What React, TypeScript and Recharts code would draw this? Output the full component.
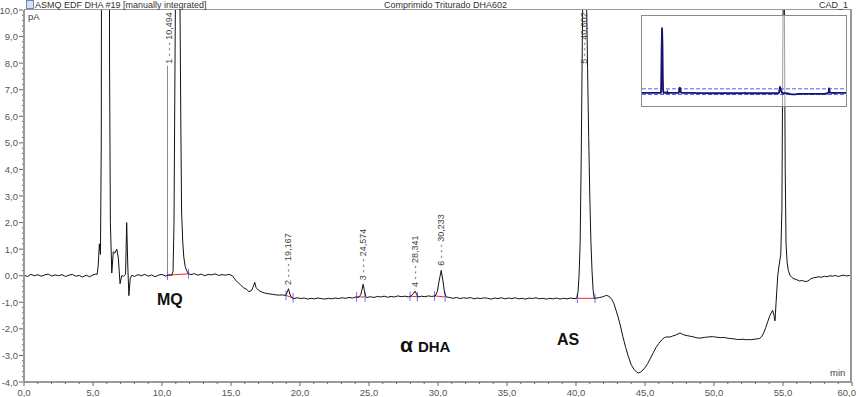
import React from 'react';
import { LineChart, Line, XAxis, YAxis, ReferenceLine, ReferenceDot } from 'recharts';

type Pt = [number, number];

// chromatogram trace, [min, pA]
const baselineStart: Pt[] = [
  [0, 0.02], [0.25, -0.03], [0.5, 0.05], [0.75, 0.0], [1.0, 0.04], [1.25, -0.02], [1.5, 0.03],
  [1.75, 0.06], [2.0, -0.01], [2.25, 0.03], [2.5, 0.0], [2.75, 0.04], [3.0, -0.03], [3.25, 0.02],
  [3.5, 0.05], [3.75, -0.02], [4.0, 0.01], [4.25, -0.05], [4.5, 0.02], [4.75, -0.04], [5.0, 0.03],
  [5.2, 0.06],
];

const solventFront: Pt[] = [
  [5.3, 0.05], [5.38, 0.4], [5.46, 1.2], [5.54, 0.8], [5.6, 5], [5.66, 30], [5.78, 110], [5.9, 160],
  [6.02, 120], [6.12, 40], [6.2, 8], [6.26, 2], [6.36, 0.1], [6.47, 0.9], [6.58, 0.85], [6.72, 1.0],
  [6.83, 0.7], [6.96, -0.3], [7.08, 0.0], [7.22, -0.02], [7.36, 0.05], [7.44, 2.0], [7.52, 0.4],
  [7.6, -0.75], [7.7, -0.1], [7.82, 0.02],
];

const mqRegion: Pt[] = [
  [8.0, -0.03], [8.25, 0.04], [8.5, 0.0], [8.75, 0.05], [9.0, -0.02], [9.25, 0.03], [9.5, -0.04],
  [9.75, 0.02], [10.0, 0.05], [10.25, -0.01], [10.5, 0.03], [10.7, 0.02],
  [10.8, 0.15], [10.87, 2], [10.93, 7], [10.98, 11], [11.1, 12.5], [11.22, 12], [11.3, 10.5],
  [11.36, 6], [11.42, 2.4], [11.5, 1.3], [11.58, 0.7], [11.68, 0.35], [11.78, 0.2], [11.9, 0.08],
  [12.1, 0.04], [12.35, 0.08], [12.6, 0.02], [12.85, 0.06], [13.1, 0.0], [13.35, 0.05], [13.6, 0.03],
  [13.85, 0.07], [14.1, 0.01], [14.35, 0.04], [14.6, 0.02], [14.85, 0.05], [15.1, 0.0],
];

const dhaRegion: Pt[] = [
  [15.3, -0.15], [15.5, -0.25], [15.7, -0.35], [15.9, -0.45], [16.1, -0.5], [16.3, -0.6], [16.5, -0.55],
  [16.62, -0.4], [16.72, -0.25], [16.82, -0.45], [17.0, -0.55], [17.25, -0.62], [17.5, -0.66],
  [17.75, -0.68], [18.0, -0.7], [18.25, -0.72], [18.5, -0.73], [18.75, -0.72], [18.95, -0.75],
  [19.05, -0.65], [19.167, -0.49], [19.28, -0.72], [19.4, -0.82], [19.55, -0.86],
  [19.8, -0.83], [20.05, -0.86], [20.3, -0.84], [20.55, -0.88], [20.8, -0.85], [21.05, -0.87],
  [21.3, -0.84], [21.55, -0.86], [21.8, -0.88], [22.05, -0.85], [22.3, -0.87], [22.55, -0.84],
  [22.8, -0.86], [23.05, -0.83], [23.3, -0.85], [23.55, -0.82], [23.8, -0.84], [24.05, -0.8],
  [24.25, -0.81], [24.4, -0.72], [24.5, -0.5], [24.574, -0.32], [24.65, -0.52], [24.75, -0.78],
  [24.85, -0.82], [25.1, -0.79], [25.35, -0.82], [25.6, -0.78], [25.85, -0.8], [26.1, -0.77],
  [26.35, -0.81], [26.6, -0.78], [26.85, -0.8], [27.1, -0.76], [27.35, -0.79], [27.6, -0.77],
  [27.85, -0.8], [28.05, -0.76], [28.2, -0.68], [28.341, -0.58], [28.45, -0.7], [28.55, -0.8],
  [28.8, -0.77], [29.05, -0.79], [29.3, -0.76], [29.55, -0.78], [29.8, -0.76],
  [29.95, -0.6], [30.08, -0.2], [30.233, 0.2], [30.36, -0.2], [30.48, -0.65], [30.6, -0.8],
  [30.85, -0.82], [31.1, -0.85], [31.35, -0.82], [31.6, -0.86], [31.85, -0.83], [32.1, -0.85],
  [32.35, -0.82], [32.6, -0.87], [32.85, -0.84], [33.1, -0.86], [33.35, -0.83], [33.6, -0.85],
  [33.85, -0.88], [34.1, -0.84], [34.35, -0.86], [34.6, -0.83], [34.85, -0.87], [35.1, -0.84],
  [35.35, -0.86], [35.6, -0.83], [35.85, -0.87], [36.1, -0.85], [36.35, -0.88], [36.6, -0.84],
  [36.85, -0.86], [37.1, -0.83], [37.35, -0.87], [37.6, -0.85], [37.85, -0.88], [38.1, -0.85],
  [38.35, -0.87], [38.6, -0.84], [38.85, -0.88], [39.1, -0.85], [39.35, -0.87], [39.6, -0.84],
  [39.85, -0.86], [40.05, -0.85],
];

const asRegion: Pt[] = [
  [40.15, -0.6], [40.22, 0.0], [40.3, 1.2], [40.38, 4.5], [40.46, 9], [40.54, 13], [40.602, 14],
  [40.68, 13], [40.76, 10.5], [40.84, 7.8], [40.92, 5.2], [41.0, 3.0], [41.08, 1.3], [41.16, 0.2],
  [41.24, -0.55], [41.32, -0.85], [41.5, -0.84], [41.7, -0.82], [41.9, -0.8], [42.05, -0.77],
  [42.2, -0.74], [42.32, -0.76], [42.45, -0.8],
];

const gradientDip: Pt[] = [
  [42.6, -0.9], [42.75, -1.05], [42.9, -1.3], [43.05, -1.55], [43.2, -1.85], [43.4, -2.3],
  [43.6, -2.7], [43.8, -3.05], [44.0, -3.35], [44.2, -3.52], [44.4, -3.63], [44.55, -3.66],
  [44.7, -3.62], [44.85, -3.55], [45.0, -3.46], [45.2, -3.3], [45.4, -3.1], [45.6, -2.9],
  [45.8, -2.7], [46.0, -2.55], [46.2, -2.42], [46.4, -2.33], [46.6, -2.3], [46.8, -2.31],
  [47.0, -2.27], [47.2, -2.24], [47.4, -2.19], [47.54, -2.15], [47.7, -2.2], [47.9, -2.24],
  [48.1, -2.26], [48.3, -2.28], [48.5, -2.3], [48.7, -2.33], [48.9, -2.35], [49.1, -2.34],
  [49.3, -2.32], [49.5, -2.31], [49.7, -2.3], [49.9, -2.29], [50.1, -2.31], [50.3, -2.32],
  [50.5, -2.33], [50.7, -2.32], [50.9, -2.34], [51.1, -2.36], [51.3, -2.37], [51.5, -2.38],
  [51.7, -2.4], [51.9, -2.4], [52.1, -2.39], [52.3, -2.41], [52.5, -2.4], [52.7, -2.41],
  [52.9, -2.39], [53.1, -2.38], [53.3, -2.36], [53.45, -2.3], [53.6, -2.15], [53.75, -1.95],
  [53.9, -1.72], [54.05, -1.5], [54.15, -1.4], [54.25, -1.3], [54.35, -1.5], [54.42, -1.7],
];

const lateRegion: Pt[] = [
  [54.5, -1.0], [54.56, -0.5], [54.62, 0.0], [54.72, 0.4], [54.84, 0.8], [54.92, 2.5], [54.98, 8],
  [55.04, 12.5], [55.1, 10], [55.16, 4], [55.22, 1.2], [55.3, 0.5], [55.39, 0.19], [55.5, 0.02],
  [55.63, -0.06], [55.8, -0.12], [56.0, -0.15], [56.2, -0.2], [56.4, -0.18], [56.6, -0.22],
  [56.8, -0.2], [57.0, -0.12], [57.2, -0.08], [57.4, -0.06], [57.6, -0.04], [57.8, -0.06],
  [58.0, -0.02], [58.2, -0.04], [58.4, 0.0], [58.6, -0.02], [58.8, 0.01], [59.0, -0.03],
  [59.2, 0.0], [59.4, 0.02], [59.6, -0.01], [59.8, 0.01], [60.0, 0.0],
];

// integrated peaks: number, retention time, where the label sits
const peakNums = ['1', '2', '3', '4', '6', '5'];
const peakTimes = [10.494, 19.167, 24.574, 28.341, 30.233, 40.602];
const peakLabelY = [7.9, -0.42, -0.25, -0.5, 0.3, 7.9];

// integration baselines (start / end of each peak)
const intStart: Pt[] = [[10.4, 0.02], [18.98, -0.74], [24.1, -0.8], [27.98, -0.77], [29.75, -0.76], [40.1, -0.85]];
const intEnd: Pt[] = [[11.92, 0.07], [19.5, -0.84], [24.72, -0.8], [28.5, -0.79], [30.52, -0.8], [41.38, -0.85]];

const xMajor = [0, 5, 10, 15, 20, 25, 30, 35, 40, 45, 50, 55, 60];
const yMajor = [-4, -3, -2, -1, 0, 1, 2, 3, 4, 5, 6, 7, 8, 9, 10];

const trace = [...baselineStart, ...solventFront, ...mqRegion, ...dhaRegion, ...asRegion, ...gradientDip, ...lateRegion]
  .map(([t, v]) => ({ t, v }));

const xTicks: number[] = [];
for (let i = 0; i < xMajor.length - 1; i++) for (let k = 0; k < 5; k++) xTicks.push(xMajor[i] + k);
xTicks.push(60);
const yTicks: number[] = [];
for (let i = 0; i < yMajor.length - 1; i++) for (let k = 0; k < 5; k++) yTicks.push(Math.round((yMajor[i] + k * 0.2) * 10) / 10);
yTicks.push(10);

const FONT = '"Liberation Sans", Arial, sans-serif';
const fmt = (v: number) => v.toFixed(1).replace('.', ',');

function YTick({ x, y, payload }: any) {
  const v = payload.value;
  const major = Math.abs(v - Math.round(v)) < 1e-6;
  return (
    <g>
      <line x1={x - (major ? 5 : 2)} x2={x - 1} y1={y} y2={y} stroke="#666" />
      {major && (
        <text x={x - 6} y={y} dy={3.5} textAnchor="end" fontSize={9.5} fill="#555" fontFamily={FONT}>
          {fmt(v)}
        </text>
      )}
    </g>
  );
}

function XTick({ x, y, payload }: any) {
  const v = payload.value;
  const major = v % 5 === 0;
  const last = v === 60;
  return (
    <g>
      <line x1={x} x2={x} y1={y} y2={y + (major ? 4 : 2)} stroke="#666" />
      {major && (
        <text
          x={last ? x + 4 : x}
          y={y + 14}
          textAnchor={last ? 'end' : 'middle'}
          fontSize={9.5}
          fill="#555"
          fontFamily={FONT}
        >
          {fmt(v)}
        </text>
      )}
    </g>
  );
}

const peakLabel = (text: string) => (props: any) => {
  const { x, y } = props.viewBox;
  const px = x + 3;
  const py = y - 2;
  return (
    <text x={px} y={py} transform={`rotate(-90 ${px} ${py})`} fontSize={9} fill="#444" fontFamily={FONT}>
      {text}
    </text>
  );
};

const txt: React.CSSProperties = { position: 'absolute', fontFamily: FONT, whiteSpace: 'nowrap' };

export default function App() {
  return (
    <div style={{ position: 'absolute', left: 0, top: 0, width: 856, height: 397, background: '#fff', overflow: 'hidden' }}>
      <LineChart width={856} height={397} data={trace} margin={{ top: 10, right: 4, bottom: 0, left: 0 }}>
        <XAxis
          type="number"
          dataKey="t"
          domain={[0, 60]}
          ticks={xTicks}
          interval={0}
          height={15}
          tickSize={0}
          tickMargin={0}
          tick={<XTick />}
          axisLine={{ stroke: '#9a9a9a', strokeWidth: 2 }}
          allowDataOverflow
        />
        <YAxis
          type="number"
          domain={[-4, 10]}
          ticks={yTicks}
          interval={0}
          width={24}
          tickSize={0}
          tickMargin={0}
          tick={<YTick />}
          axisLine={{ stroke: '#9a9a9a', strokeWidth: 2 }}
          allowDataOverflow
        />
        <ReferenceLine segment={[{ x: 10.4, y: 0.02 }, { x: 10.4, y: 7.9 }]} stroke="#888" />
        {intStart.map((s, i) => (
          <ReferenceLine key={'r' + i} segment={[{ x: s[0], y: s[1] }, { x: intEnd[i][0], y: intEnd[i][1] }]} stroke="#ff2020" />
        ))}
        {[...intStart, ...intEnd].map((p, i) => (
          <ReferenceLine key={'b' + i} segment={[{ x: p[0], y: p[1] + 0.18 }, { x: p[0], y: p[1] - 0.18 }]} stroke="#6f6fff" />
        ))}
        <Line type="linear" dataKey="v" stroke="#111" strokeWidth={1} dot={false} isAnimationActive={false} />
        {peakTimes.map((t, i) => (
          <ReferenceDot
            key={'p' + i}
            x={t}
            y={peakLabelY[i]}
            r={0}
            fill="none"
            stroke="none"
            label={peakLabel(`${peakNums[i]} - - - ${t.toFixed(3).replace('.', ',')}`)}
          />
        ))}
      </LineChart>

      {/* frame top/right */}
      <div style={{ position: 'absolute', left: 24, top: 9, width: 828, height: 373, borderTop: '1px solid #9a9a9a', borderRight: '2px solid #9a9a9a', boxSizing: 'border-box', pointerEvents: 'none' }} />

      {/* overview inset */}
      <div style={{ position: 'absolute', left: 641, top: 15, width: 204, height: 90, border: '1px solid #8a8a8a', background: 'rgba(255,255,255,0.6)' }}>
        <LineChart width={204} height={90} data={trace} margin={{ top: 0, right: 0, bottom: 0, left: 0 }}>
          <XAxis type="number" dataKey="t" domain={[0, 60]} hide />
          <YAxis type="number" domain={[-32, 188]} hide />
          <ReferenceLine y={10} stroke="#5b5bff" strokeDasharray="4 2" />
          <ReferenceLine y={-4} stroke="#5b5bff" strokeDasharray="4 2" />
          <Line type="linear" dataKey="v" stroke="#14146e" strokeWidth={1.8} dot={false} isAnimationActive={false} />
        </LineChart>
      </div>

      {/* header */}
      <div style={{ position: 'absolute', left: 26, top: 0, width: 6, height: 7, border: '1px solid #6a8ab0', background: '#cfe0f5' }} />
      <div style={{ ...txt, left: 35, top: 0, fontSize: 9, color: '#333', lineHeight: '10px' }}>ASMQ EDF DHA #19 [manually integrated]</div>
      <div style={{ ...txt, left: 384, top: 0, fontSize: 9, color: '#333', lineHeight: '10px' }}>Comprimido Triturado DHA602</div>
      <div style={{ ...txt, left: 819, top: 0, fontSize: 9, color: '#333', lineHeight: '10px' }}>CAD_1</div>
      <div style={{ ...txt, left: 28, top: 12, fontSize: 9.5, color: '#444', lineHeight: '10px' }}>pA</div>
      <div style={{ ...txt, left: 830, top: 368, fontSize: 9.5, color: '#444', lineHeight: '10px' }}>min</div>

      {/* compound annotations */}
      <div style={{ ...txt, left: 157, top: 292, fontSize: 16, fontWeight: 'bold', color: '#111', lineHeight: '16px' }}>MQ</div>
      <div style={{ ...txt, left: 400, top: 335, color: '#111', lineHeight: '20px' }}>
        <span style={{ fontSize: 21, fontWeight: 'bold' }}>α</span>
        <span style={{ fontSize: 15, fontWeight: 'bold', marginLeft: 5 }}>DHA</span>
      </div>
      <div style={{ ...txt, left: 557, top: 332, fontSize: 16, fontWeight: 'bold', color: '#111', lineHeight: '16px' }}>AS</div>
    </div>
  );
}
